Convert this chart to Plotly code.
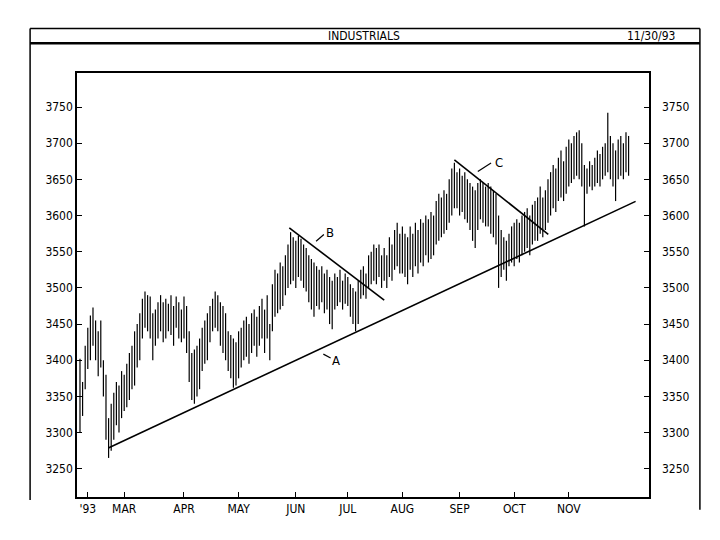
import plotly.graph_objects as go

# ---- data (daily high / low bars, trading-day index order) ----
highs = [3402, 3370, 3420, 3445, 3462, 3473, 3455, 3440, 3455, 3400,
         3380, 3320, 3340, 3355, 3370, 3365, 3385, 3380, 3395, 3410,
         3420, 3440, 3450, 3465, 3485, 3495, 3490, 3488, 3465, 3470,
         3480, 3490, 3480, 3485, 3478, 3490, 3475, 3488, 3480, 3470,
         3488, 3475, 3440, 3410, 3415, 3420, 3430, 3445, 3455, 3465,
         3475, 3485, 3495, 3490, 3480, 3475, 3465, 3440, 3435, 3430,
         3425, 3440, 3445, 3455, 3460, 3450, 3465, 3470, 3460, 3475,
         3485, 3470, 3490, 3450, 3505, 3525, 3520, 3535, 3530, 3545,
         3560, 3577, 3570, 3565, 3572, 3568, 3560, 3555, 3545, 3540,
         3535, 3530, 3525, 3530, 3520, 3525, 3515, 3510, 3520, 3515,
         3525, 3510, 3520, 3515, 3505, 3500, 3495, 3510, 3525, 3530,
         3520, 3545, 3550, 3560, 3555, 3560, 3545, 3555, 3545, 3570,
         3560, 3580, 3590, 3575, 3585, 3575, 3570, 3585, 3575, 3590,
         3580, 3595, 3590, 3600, 3595, 3605, 3600, 3620, 3630, 3625,
         3635, 3630, 3650, 3665, 3673, 3660, 3665, 3655, 3660, 3650,
         3645, 3640, 3635, 3645, 3650, 3645, 3640, 3645, 3640, 3635,
         3630, 3600, 3580, 3570, 3565, 3575, 3585, 3590, 3595, 3590,
         3600, 3605, 3610, 3600, 3615, 3620, 3625, 3640, 3625, 3635,
         3650, 3660, 3670, 3665, 3680, 3690, 3675, 3695, 3705, 3700,
         3710, 3715, 3718, 3700, 3670, 3665, 3675, 3670, 3680, 3690,
         3685, 3695, 3700, 3742, 3710, 3700, 3690, 3705, 3710, 3700,
         3715, 3710]
lows = [3301, 3323, 3360, 3388, 3400, 3420, 3400, 3378, 3390, 3350,
        3290, 3265, 3275, 3290, 3310, 3300, 3320, 3330, 3335, 3345,
        3360, 3365, 3390, 3400, 3430, 3445, 3440, 3430, 3400, 3420,
        3430, 3440, 3425, 3430, 3440, 3435, 3420, 3445, 3430, 3425,
        3430, 3410, 3370, 3345, 3340, 3350, 3360, 3385, 3395, 3400,
        3425, 3440, 3445, 3440, 3420, 3410, 3400, 3385, 3375, 3362,
        3365, 3375, 3390, 3400, 3405, 3395, 3410, 3420, 3405, 3420,
        3430, 3410, 3430, 3400, 3440, 3460, 3465, 3470, 3475, 3490,
        3500, 3505, 3510, 3500, 3515, 3510, 3500, 3495, 3480, 3470,
        3460, 3475, 3470, 3480, 3465, 3470, 3450, 3443, 3470, 3475,
        3480, 3470, 3478, 3475, 3460, 3450, 3440, 3450, 3485, 3490,
        3485, 3500, 3505, 3510, 3505, 3515, 3500, 3510, 3500, 3515,
        3510, 3525, 3530, 3520, 3520, 3515, 3505, 3525, 3515, 3530,
        3520, 3535, 3530, 3545, 3535, 3540, 3545, 3560, 3565, 3570,
        3575, 3580, 3590, 3600, 3610, 3610, 3600, 3605, 3595, 3590,
        3580, 3565, 3555, 3580, 3595, 3590, 3585, 3585, 3575, 3570,
        3560, 3500, 3515, 3525, 3510, 3530, 3535, 3530, 3540, 3535,
        3545, 3550, 3555, 3545, 3560, 3565, 3565, 3575, 3570, 3580,
        3590, 3600, 3610, 3605, 3620, 3625, 3620, 3630, 3640, 3645,
        3650, 3655, 3650, 3640, 3585, 3630, 3640, 3635, 3640, 3645,
        3640, 3650, 3655, 3660, 3650, 3640, 3620, 3650, 3655, 3650,
        3660, 3655]

month_labels = ["'93", "MAR", "APR", "MAY", "JUN", "JUL", "AUG", "SEP", "OCT", "NOV"]
month_start_index = [3, 17, 40, 61, 83, 103, 124, 146, 167, 188]
y_ticks = [3250, 3300, 3350, 3400, 3450, 3500, 3550, 3600, 3650, 3700, 3750]

# trend lines: (start index, start value, end index, end value)
trend_A = [10.9, 3278.6, 213.7, 3619.6]
trend_B = [80.5, 3583.0, 117.0, 3483.0]
trend_C = [144.0, 3677.0, 180.1, 3574.0]

title_text = "INDUSTRIALS"
date_text = "11/30/93"

# ---- build figure ----
FONT = "DejaVu Sans Condensed, Liberation Sans Narrow, DejaVu Sans, sans-serif"

bx, by = [], []
for i, (h, l) in enumerate(zip(highs, lows)):
    bx += [i, i, None]
    by += [l, h, None]

fig = go.Figure()
fig.add_trace(go.Scatter(x=bx, y=by, mode="lines",
                         line=dict(color="black", width=1.2),
                         hoverinfo="skip", showlegend=False))
for t in (trend_A, trend_B, trend_C):
    fig.add_trace(go.Scatter(x=[t[0], t[2]], y=[t[1], t[3]], mode="lines",
                             line=dict(color="black", width=1.6),
                             hoverinfo="skip", showlegend=False))
# invisible trace for right axis
fig.add_trace(go.Scatter(x=[0], y=[y_ticks[0]], yaxis="y2", mode="markers",
                         marker=dict(opacity=0), hoverinfo="skip", showlegend=False))

yr = [3211, 3797]
fig.update_layout(
    width=712, height=532,
    margin=dict(l=69, r=71, t=65, b=43),
    paper_bgcolor="white", plot_bgcolor="white",
    font=dict(family=FONT, size=12, color="black"),
    xaxis=dict(range=[-1.15, 218.85], tickvals=month_start_index, ticktext=month_labels,
               ticks="inside", ticklen=5, tickcolor="black", showgrid=False, zeroline=False,
               showline=True, linecolor="black", linewidth=1.5, mirror=True,
               tickfont=dict(size=12)),
    yaxis=dict(range=yr, tickvals=y_ticks, ticks="inside", ticklen=5, tickcolor="black",
               showgrid=False, zeroline=False, showline=True, linecolor="black",
               linewidth=1.5, mirror=True, tickfont=dict(size=12)),
    yaxis2=dict(range=yr, tickvals=y_ticks, overlaying="y", side="right",
                ticks="inside", ticklen=5, tickcolor="black", showgrid=False,
                zeroline=False, showline=False, ticklabelstandoff=12,
                tickfont=dict(size=12)),
)

# label annotations for trend lines with short leaders
for txt, lx, ly, x0, y0, x1, y1 in [("A", 98.5, 3400, 93.6, 3408.5, 96.4, 3403),
                                     ("B", 96.2, 3577, 90.8, 3564.5, 93.8, 3573.7),
                                     ("C", 161.3, 3673, 153.0, 3661, 158.1, 3672.5)]:
    fig.add_annotation(x=lx, y=ly, text=txt, showarrow=False, xref="x", yref="y",
                       font=dict(size=13))
    fig.add_shape(type="line", x0=x0, y0=y0, x1=x1, y1=y1, xref="x", yref="y",
                  line=dict(color="black", width=1.2))

# outer frame and header band (paper coords)
fig.add_shape(type="line", xref="paper", yref="paper", x0=-0.082, x1=1.089, y0=1.105, y1=1.105,
              line=dict(color="black", width=1.5))
fig.add_shape(type="line", xref="paper", yref="paper", x0=-0.082, x1=1.089, y0=1.070, y1=1.070,
              line=dict(color="black", width=2.5))
fig.add_shape(type="line", xref="paper", yref="paper", x0=-0.082, x1=-0.082, y0=-0.007, y1=1.105,
              line=dict(color="black", width=1.5))
fig.add_shape(type="line", xref="paper", yref="paper", x0=1.089, x1=1.089, y0=-0.03, y1=1.105,
              line=dict(color="black", width=1.5))
fig.add_annotation(xref="paper", yref="paper", x=0.502, y=1.0875, yanchor="middle",
                   text=title_text, showarrow=False, font=dict(size=12))
fig.add_annotation(xref="paper", yref="paper", x=1.049, y=1.0875, yanchor="middle",
                   text=date_text, showarrow=False, font=dict(size=12))

fig.write_html("out.html")
